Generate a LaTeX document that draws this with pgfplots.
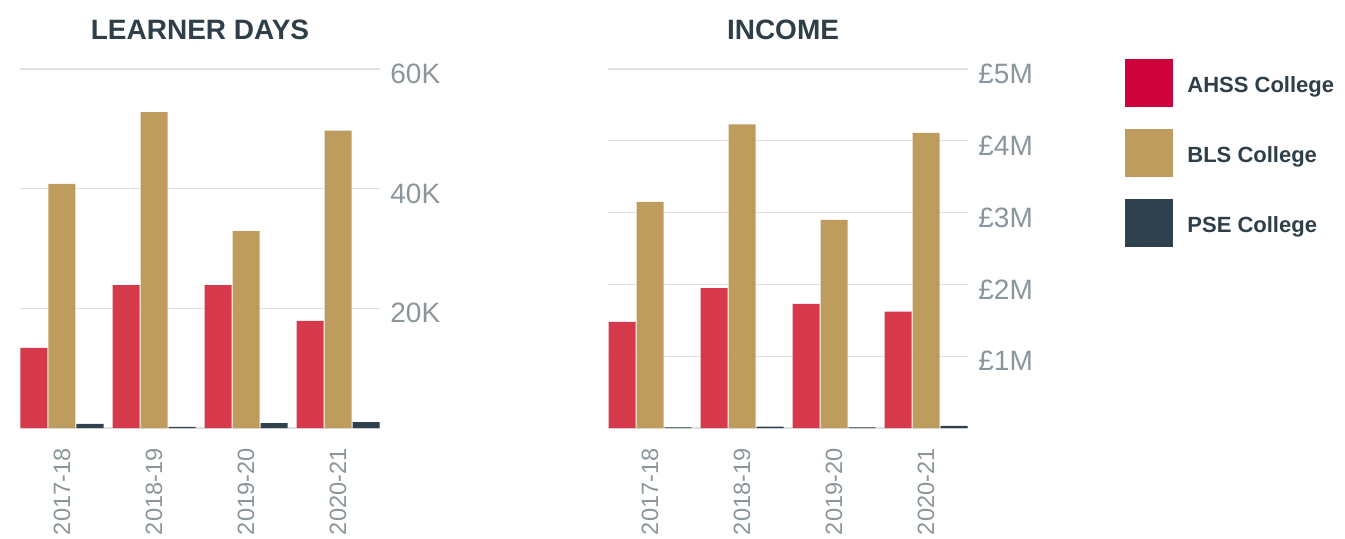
\documentclass[border=0pt]{standalone}
\usepackage{pgfplots}
\pgfplotsset{compat=1.18}
\usepackage{fontspec}
\setmainfont{Liberation Sans}
\definecolor{cred}{HTML}{D6394C}
\definecolor{cgold}{HTML}{BD9C5E}
\definecolor{cdark}{HTML}{2E414C}
\definecolor{legred}{HTML}{CF033B}
\definecolor{ctext}{HTML}{2E3F4A}
\definecolor{ctick}{HTML}{8A969C}
\definecolor{cgrid}{HTML}{E0E0E0}
\pgfplotsset{
  mybars/.style={
    ybar=0.5pt, bar width=13.5pt,
    scale only axis, width=180pt, height=179.5pt,
    anchor=south west,
    xmin=-0.4565, xmax=3.4565, ymin=0,
    axis line style={draw=none},
    major tick length=0pt,
    scaled y ticks=false,
    xtick={0,1,2,3},
    xticklabels={2017-18,2018-19,2019-20,2020-21},
    xticklabel style={rotate=90, anchor=east, inner sep=0pt, font=\fontsize{11.8}{13}\selectfont, text=ctick},
    xticklabel shift=10pt,
    yticklabel pos=right,
    yticklabel style={anchor=west, inner sep=0pt, xshift=5pt, yshift=-2.5pt, font=\fontsize{14}{15}\selectfont, text=ctick},
    ymajorgrids, grid style={draw=cgrid, line width=0.6pt},
    /pgf/number format/assume math mode=true,
  }
}
\begin{document}
\begin{tikzpicture}
\path[use as bounding box] (0,0) rectangle (672.5pt,-269pt);
\begin{axis}[mybars, at={(10pt,-214pt)}, ymax=60000,
  ytick={0,20000,40000,60000}, yticklabels={,20K,40K,60K}]
\addplot[fill=cred, draw=none] coordinates {(0,13400) (1,23900) (2,23900) (3,17900)};
\addplot[fill=cgold, draw=none] coordinates {(0,40800) (1,52800) (2,32900) (3,49700)};
\addplot[fill=cdark, draw=none] coordinates {(0,700) (1,200) (2,800) (3,1000)};
\end{axis}
\begin{axis}[mybars, at={(304pt,-214pt)}, ymax=5000000,
  ytick={0,1000000,2000000,3000000,4000000,5000000}, yticklabels={,£1M,£2M,£3M,£4M,£5M}]
\addplot[fill=cred, draw=none] coordinates {(0,1480000) (1,1950000) (2,1730000) (3,1620000)};
\addplot[fill=cgold, draw=none] coordinates {(0,3150000) (1,4230000) (2,2900000) (3,4110000)};
\addplot[fill=cdark, draw=none] coordinates {(0,10000) (1,20000) (2,10000) (3,30000)};
\end{axis}
\node[font=\bfseries\fontsize{14}{15}\selectfont, text=ctext] at (100pt,-15pt) {LEARNER DAYS};
\node[font=\bfseries\fontsize{14}{15}\selectfont, text=ctext] at (391.5pt,-15pt) {INCOME};
\fill[legred] (562.5pt,-29.5pt) rectangle ++(24pt,-24pt);
\fill[cgold] (562.5pt,-64.5pt) rectangle ++(24pt,-24pt);
\fill[cdark] (562.5pt,-99.5pt) rectangle ++(24pt,-24pt);
\node[anchor=west, inner sep=0pt, font=\bfseries\fontsize{11}{12}\selectfont, text=ctext] at (593.5pt,-43.5pt) {AHSS College};
\node[anchor=west, inner sep=0pt, font=\bfseries\fontsize{11}{12}\selectfont, text=ctext] at (593.5pt,-78.5pt) {BLS College};
\node[anchor=west, inner sep=0pt, font=\bfseries\fontsize{11}{12}\selectfont, text=ctext] at (593.5pt,-113.5pt) {PSE College};
\end{tikzpicture}
\end{document}
